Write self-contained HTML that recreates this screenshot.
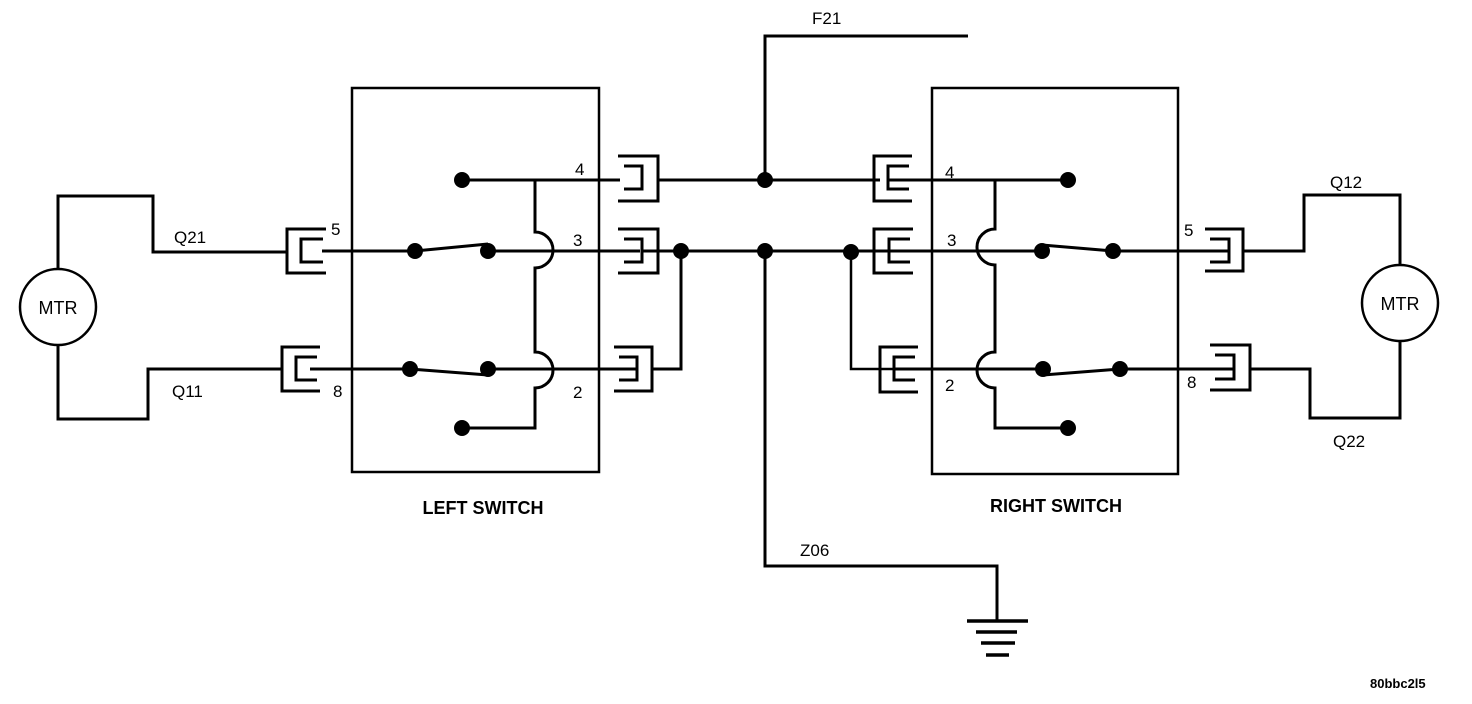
<!DOCTYPE html>
<html><head><meta charset="utf-8"><style>
html,body{margin:0;padding:0;background:#fff;}
svg{display:block;}
text{font-family:"Liberation Sans",Arial,sans-serif;fill:#000;}
</style></head><body>
<svg width="1472" height="704" viewBox="0 0 1472 704" xmlns="http://www.w3.org/2000/svg">
<g fill="none" stroke="#000" stroke-width="3">
<rect x="352" y="88" width="247" height="384" stroke-width="2.5"/>
<rect x="932" y="88" width="246" height="386" stroke-width="2.5"/>
<circle cx="58" cy="307" r="38" stroke-width="2.5"/>
<path d="M58 269 V196 H153 V252 H287"/>
<path d="M58 345 V419 H148 V369 H282"/>
<circle cx="1400" cy="303" r="38" stroke-width="2.5"/>
<path d="M1400 265 V195 H1304 V251 H1243"/>
<path d="M1400 341 V418 H1310 V369 H1250"/>
<path d="M462 180 H620"/>
<path d="M535 180 V232 A18 18 0 0 1 535 268 V352 A18 18 0 0 1 535 388 V428 H462"/>
<path d="M322 251 H415 L488 244"/>
<path d="M488 251 H640"/>
<path d="M310 369 H410 L488 375"/>
<path d="M488 369 H636"/>
<path d="M326 229 H287 V273 H326"/><path d="M323 239 H301 V262 H323"/>
<path d="M320 347 H282 V391 H320"/><path d="M317 357 H296 V380 H317"/>
<path d="M618 156 H658 V201 H618"/><path d="M624 166 H642 V189 H624"/>
<path d="M618 229 H658 V273 H618"/><path d="M624 239 H642 V262 H624"/>
<path d="M614 347 H652 V391 H614"/><path d="M619 357 H637 V380 H619"/>
<path d="M658 180 H880"/>
<path d="M642 251 H890"/>
<path d="M652 369 H681 V251"/>
<path d="M851 251 V369 H898" stroke-width="2.5"/>
<path d="M765 180 V36 H968"/>
<path d="M765 251 V566 H997 V621"/>
<path d="M967 621 H1028 M976 632 H1017 M981 643 H1015 M986 655 H1009" stroke-width="3.5"/>
<path d="M912 156 H874 V201 H912"/><path d="M909 166 H888 V189 H909"/>
<path d="M913 229 H874 V273 H913"/><path d="M910 239 H889 V262 H910"/>
<path d="M918 347 H880 V392 H918"/><path d="M915 357 H894 V380 H915"/>
<path d="M1205 229 H1243 V271 H1205"/><path d="M1210 239 H1229 V262 H1210"/>
<path d="M1210 345 H1250 V390 H1210"/><path d="M1215 355 H1234 V379 H1215"/>
<path d="M888 180 H1068"/>
<path d="M995 180 V229 A18 18 0 0 0 995 265 V352 A18 18 0 0 0 995 388 V428 H1068"/>
<path d="M889 251 H1042 M1042 245 L1113 251"/>
<path d="M1113 251 H1229"/>
<path d="M894 369 H1043 M1043 375 L1120 369 H1234"/>
</g>
<g fill="#000">
<circle cx="462" cy="180" r="8"/><circle cx="415" cy="251" r="8"/><circle cx="488" cy="251" r="8"/>
<circle cx="410" cy="369" r="8"/><circle cx="488" cy="369" r="8"/><circle cx="462" cy="428" r="8"/>
<circle cx="681" cy="251" r="8"/><circle cx="765" cy="251" r="8"/><circle cx="851" cy="252" r="8"/><circle cx="765" cy="180" r="8"/>
<circle cx="1068" cy="180" r="8"/><circle cx="1042" cy="251" r="8"/><circle cx="1113" cy="251" r="8"/>
<circle cx="1043" cy="369" r="8"/><circle cx="1120" cy="369" r="8"/><circle cx="1068" cy="428" r="8"/>
</g>
<g font-size="17">
<text x="58" y="314" text-anchor="middle" font-size="18">MTR</text>
<text x="1400" y="310" text-anchor="middle" font-size="18">MTR</text>
<text x="174" y="243">Q21</text>
<text x="172" y="397">Q11</text>
<text x="1330" y="188">Q12</text>
<text x="1333" y="447">Q22</text>
<text x="812" y="24">F21</text>
<text x="800" y="556">Z06</text>
<text x="575" y="175">4</text>
<text x="573" y="246">3</text>
<text x="573" y="398">2</text>
<text x="331" y="235">5</text>
<text x="333" y="397">8</text>
<text x="945" y="178">4</text>
<text x="947" y="246">3</text>
<text x="945" y="391">2</text>
<text x="1184" y="236">5</text>
<text x="1187" y="388">8</text>
</g>
<text x="483" y="514" font-size="18" font-weight="bold" text-anchor="middle">LEFT SWITCH</text>
<text x="1056" y="512" font-size="18" font-weight="bold" text-anchor="middle">RIGHT SWITCH</text>
<text x="1370" y="688" font-size="13" font-weight="bold">80bbc2l5</text>
</svg>
</body></html>
